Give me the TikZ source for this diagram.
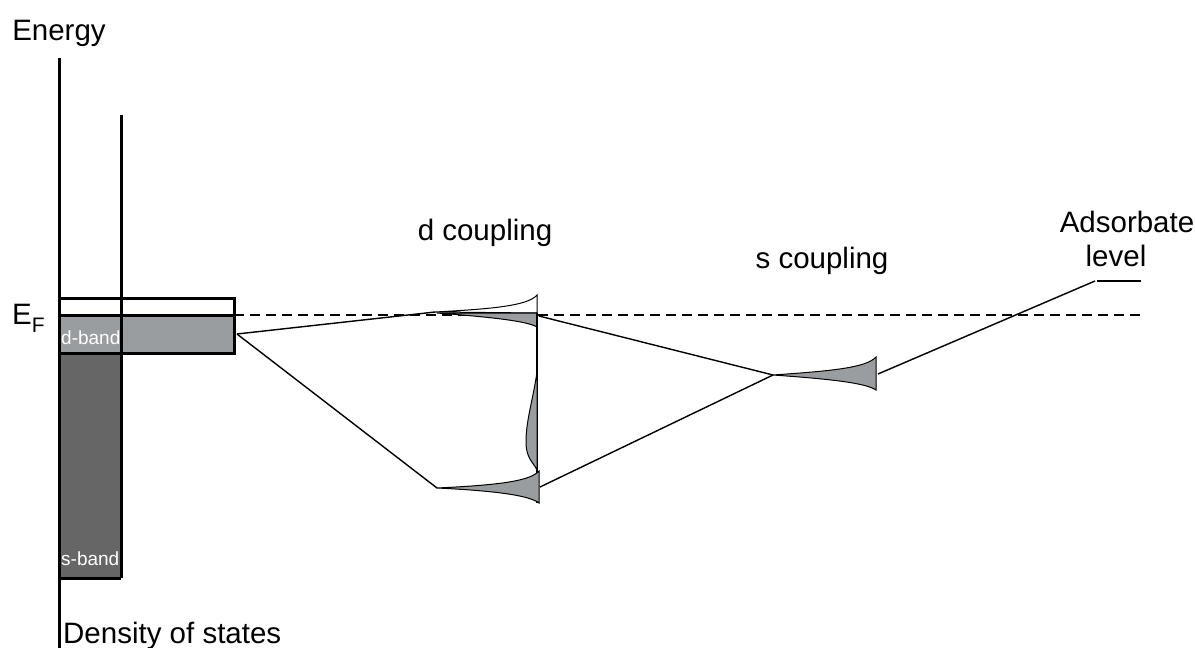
\documentclass[tikz,border=0pt]{standalone}
\usepackage{fontspec}
\setmainfont{Liberation Sans}
\definecolor{dbandgray}{HTML}{9A9D9F}
\definecolor{sbandgray}{HTML}{666666}
\definecolor{peakgray}{HTML}{9A9D9F}
\begin{document}
\begin{tikzpicture}[x=1pt,y=-1pt,
  frame/.style={line width=3pt},
  link/.style={line width=1.4pt},
  lbl/.style={font=\fontsize{29.5}{33}\selectfont, inner sep=0pt, anchor=base},
  bandlbl/.style={font=\fontsize{19}{22}\selectfont, text=white, inner sep=0pt, anchor=base west},
  peakfill/.style={fill=peakgray, draw=black, line width=1pt},
  fermi/.style={line width=2.4pt, dash pattern=on 10pt off 6pt}]

\useasboundingbox (0,0) rectangle (1195,648);

% band fillings
\fill[sbandgray] (59,353) rectangle (121,578);
\fill[dbandgray] (59,315) rectangle (234,353);

% Fermi level
\draw[fermi] (234,315) -- (1143,315);

% band outlines and axes
\draw[frame] (59,298) rectangle (234,353);
\draw[frame] (59,315) -- (234,315);
\draw[frame] (59,578) -- (121,578);
\draw[frame] (59,58) -- (59,648);
\draw[frame] (121,115) -- (121,578);

\node[bandlbl] (dlbl) at (61,344) {d-band};
\node[bandlbl] (slbl) at (61,565) {s-band};

% connection points
\coordinate (dband) at (237,334);
\coordinate (dupTip) at (435,312);
\coordinate (dloTip) at (437,488);
\coordinate (dupEnd) at (539,316);
\coordinate (dloEnd) at (540,487);
\coordinate (sTip) at (773,375);
\coordinate (sEnd) at (878,374);
\coordinate (adsL) at (1095,281);
\coordinate (adsR) at (1141,281);

% d coupling: bonding / antibonding peaks
\filldraw[fill=white, line width=1pt] (dupTip) .. controls (490,309) and (528,306) .. (537,295) -- (537,313) -- cycle;
\filldraw[peakfill] (437,313) -- (537,313) -- (537,327) .. controls (527,321) and (490,317) .. cycle;
\draw[line width=1.4pt] (537,313) -- (537,503);
\filldraw[peakfill] (537,372) .. controls (533,400) and (526,420) .. (526,442) .. controls (526,458) and (533,462) .. (537,470) -- cycle;
\filldraw[peakfill] (dloTip) .. controls (500,485) and (530,481) .. (539,471) -- (539,503) .. controls (530,496) and (500,491) .. cycle;

% s coupling: broadened level
\filldraw[peakfill] (sTip) .. controls (830,371) and (866,368) .. (876,357) -- (876,390) .. controls (866,383) and (830,379) .. cycle;

% connectors
\draw[link] (dband) -- (dupTip);
\draw[link] (dband) -- (dloTip);
\draw[link] (dupEnd) -- (sTip);
\draw[link] (dloEnd) -- (sTip);
\draw[link] (sEnd) -- (adsL);
\draw[line width=2.4pt] (1097,281) -- (adsR);

% labels
\node[lbl] (energy) at (59,40) {Energy};
\node[lbl, anchor=base west] (dos) at (63,643) {Density of states};
\node[lbl, anchor=base west] (ef) at (12,324) {E\raisebox{-8pt}{\fontsize{21}{21}\selectfont F}};
\node[lbl] (dc) at (485,240) {d coupling};
\node[lbl] (sc) at (822,268) {s coupling};
\node[lbl] (ads1) at (1127,232) {Adsorbate};
\node[lbl] (ads2) at (1116,266) {level};
\end{tikzpicture}
\end{document}
